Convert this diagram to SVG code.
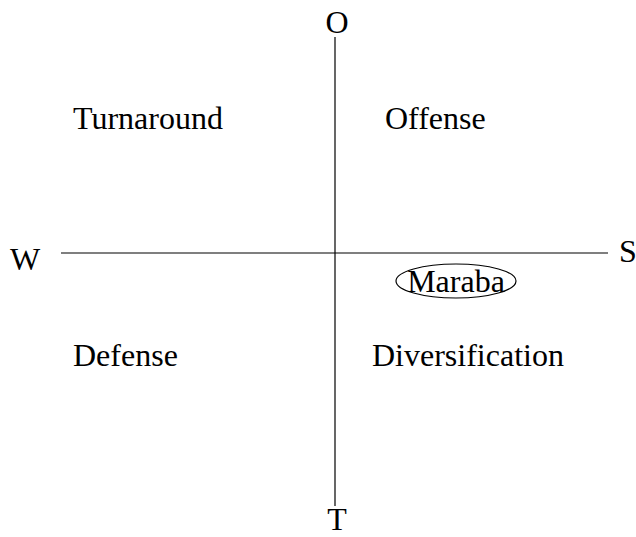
<svg xmlns="http://www.w3.org/2000/svg" width="636" height="537" viewBox="0 0 636 537">
<style>
text{font-family:"Liberation Serif","Times New Roman",serif;font-size:32px;fill:#000}
.ln{stroke:#000;stroke-width:1.2;fill:none}
</style>
<rect width="636" height="537" fill="#fff"/>
<g id="connectors">
<line class="ln" x1="335" y1="37" x2="335" y2="506"/>
<line class="ln" x1="61" y1="253" x2="608" y2="253"/>
</g>
<g id="axis-O"><text x="337" y="33" text-anchor="middle">O</text></g>
<g id="axis-T"><text x="337" y="530" text-anchor="middle">T</text></g>
<g id="axis-W"><text x="10" y="270">W</text></g>
<g id="axis-S"><text x="619" y="262">S</text></g>
<g id="turnaround"><text x="73" y="129">Turnaround</text></g>
<g id="offense"><text x="385" y="129">Offense</text></g>
<g id="defense"><text x="73" y="366">Defense</text></g>
<g id="diversification"><text x="372" y="366">Diversification</text></g>
<g id="maraba">
<ellipse class="ln" cx="456" cy="281" rx="60" ry="17"/>
<text x="456" y="292" text-anchor="middle">Maraba</text>
</g>
</svg>
